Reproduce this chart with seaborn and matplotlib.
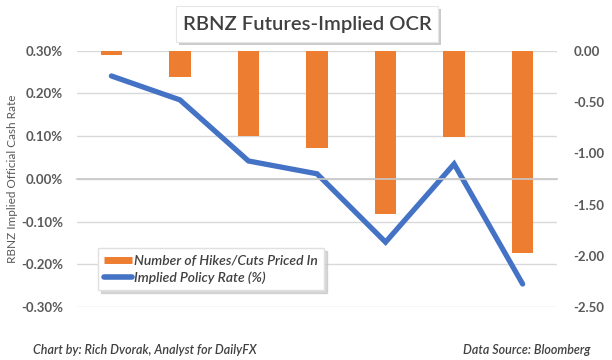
import numpy as np
import pandas as pd
import matplotlib
matplotlib.use("Agg")
import matplotlib.pyplot as plt
import seaborn as sns
from matplotlib.patches import FancyBboxPatch
from matplotlib.lines import Line2D
import matplotlib.patheffects as pe

categories = ["Nov-20", "Feb-21", "Apr-21", "May-21", "Jul-21", "Aug-21", "Oct-21"]
hikes_cuts = [-0.04, -0.26, -0.83, -0.95, -1.59, -0.84, -1.97]
policy_rate = [0.241, 0.185, 0.042, 0.012, -0.148, 0.035, -0.246]
left_ticks = [0.30, 0.20, 0.10, 0.00, -0.10, -0.20, -0.30]
right_ticks = [0.00, -0.50, -1.00, -1.50, -2.00, -2.50]

df = pd.DataFrame({"cat": categories, "hikes": hikes_cuts, "rate": policy_rate,
                   "pos": np.arange(len(categories))})

sns.set_theme(style="white")
plt.rcParams["font.family"] = ["Lato", "DejaVu Sans"]

ORANGE = "#ED7D31"
BLUE = "#4472C4"
GRID = "#d9d9d9"
TXT = "#595959"

fig = plt.figure(figsize=(6.12, 3.60), dpi=100)
ax = fig.add_axes([0.126, 0.147, 0.784, 0.712])
ax2 = ax.twinx()
ax3 = ax.twinx()

# left axis: grid + labels
ax.set_ylim(-0.30, 0.30)
ax.set_yticks(left_ticks)
ax.set_yticklabels([f"{v:.2f}%" for v in left_ticks], fontsize=9.5, fontweight="bold", color=TXT)
ax.yaxis.grid(True, color=GRID, lw=1)
ax.set_xlim(-0.5, len(categories) - 0.5)
ax.set_xticks(range(len(categories)))
ax.set_xticklabels(categories, fontsize=9.5, fontweight="bold", color=TXT)
ax.tick_params(axis="y", length=0, pad=10)
ax.tick_params(axis="x", length=0, pad=14)
for s in ax.spines.values():
    s.set_visible(False)
ax.set_ylabel("RBNZ Implied Official Cash Rate", fontsize=8.5, color=TXT)
ax.yaxis.set_label_coords(-0.123, 0.5)

# right axis: bars
sns.barplot(data=df, x="cat", y="hikes", ax=ax2, color=ORANGE, width=0.31,
            saturation=1, edgecolor="none")
ax2.set_ylim(-2.50, 0.0)
ax2.set_yticks(right_ticks)
ax2.set_yticklabels([f"{v:.2f}" for v in right_ticks], fontsize=9.5, fontweight="bold", color=TXT)
ax2.tick_params(axis="y", length=0, pad=12)
ax2.set_xlim(-0.5, len(categories) - 0.5)
ax2.set_xlabel("")
ax2.set_ylabel("")
ax2.tick_params(axis="x", length=0, labelbottom=False)
for s in ax2.spines.values():
    s.set_visible(False)

# third axes: line + x-axis line at 0%
ax3.set_ylim(-0.30, 0.30)
ax3.set_xlim(-0.5, len(categories) - 0.5)
sns.lineplot(data=df, x="pos", y="rate", ax=ax3, color=BLUE, lw=3.8,
             solid_capstyle="round", solid_joinstyle="miter", legend=False)
for k, s in ax3.spines.items():
    s.set_visible(k == "bottom")
ax3.spines["bottom"].set_position(("data", 0))
ax3.spines["bottom"].set_color("#c8c8c8")
ax3.spines["bottom"].set_linewidth(1.2)
ax3.set_xticks(np.arange(-0.5, len(categories), 1.0))
ax3.tick_params(axis="x", direction="out", length=4, width=1, color="#c8c8c8",
                labelbottom=False, bottom=True)
ax3.set_yticks([])
ax3.set_xlabel("")
ax3.set_ylabel("")

# legend
handles = [Line2D([0], [0], color=ORANGE, lw=5, solid_capstyle="butt"),
           Line2D([0], [0], color=BLUE, lw=4, solid_capstyle="round")]
labels = ["Number of Hikes/Cuts Priced In", "Implied Policy Rate (%)"]
leg = fig.legend(handles, labels, loc="upper left", bbox_to_anchor=(0.160, 0.31),
                 prop={"size": 10, "style": "italic", "weight": "semibold"},
                 frameon=True, fancybox=False, framealpha=1, edgecolor="#e0e0e0",
                 handlelength=2.0, handletextpad=0.15, borderpad=0.45,
                 borderaxespad=0, labelspacing=0.35,
                 shadow={"color": "0.75", "alpha": 0.6})
for t in leg.get_texts():
    t.set_color("#404040")

# title box
box = FancyBboxPatch((0.288, 0.883), 0.428, 0.100, boxstyle="square,pad=0",
                     transform=fig.transFigure, facecolor="white", edgecolor="#e6e6e6",
                     lw=0.8, path_effects=[pe.SimplePatchShadow(offset=(2, -2), shadow_rgbFace="0.6", alpha=0.5), pe.Normal()])
fig.patches.append(box)
fig.text(0.502, 0.933, "RBNZ Futures-Implied OCR", ha="center", va="center",
         fontsize=14.5, color="#404040", fontweight="semibold")

fig.text(0.054, 0.028, "Chart by: Rich Dvorak, Analyst for DailyFX", ha="left", va="center",
         fontsize=9, style="italic", fontweight="semibold", color="#404040")
fig.text(0.964, 0.028, "Data Source: Bloomberg", ha="right", va="center",
         fontsize=9, style="italic", fontweight="semibold", color="#404040")

fig.savefig("out.png", dpi=100, facecolor="white")
